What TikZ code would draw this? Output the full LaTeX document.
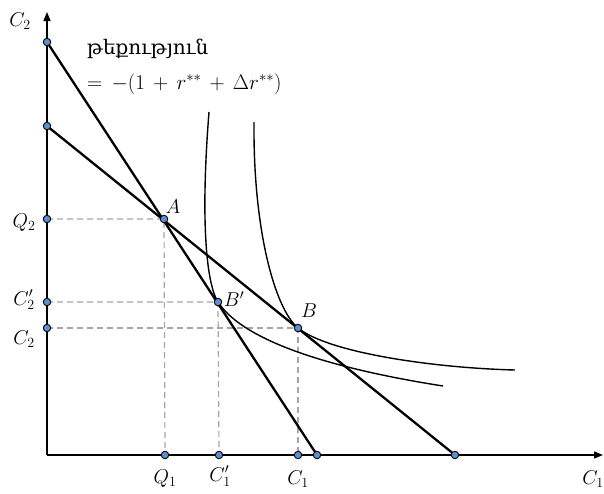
\RequirePackage{fix-cm}
\documentclass[tikz,border=0pt]{standalone}
\usepackage{fontspec}
\usetikzlibrary{arrows.meta}
\newfontfamily\armfont{DejaVu Serif}
\definecolor{dotblue}{HTML}{5B8FD0}
\definecolor{dashgray}{HTML}{A6A6A6}
\begin{document}
\begin{tikzpicture}[x=1pt,y=-1pt,
  lbl/.style={font=\fontsize{20}{24}\selectfont, inner sep=0pt},
  dot/.style={circle, fill=dotblue, draw=black, line width=0.9pt, inner sep=0pt, minimum size=7.5pt},
  axisline/.style={line width=1.3pt, -{Triangle[length=9pt,width=7pt]}},
  budget/.style={line width=2.3pt},
  icurve/.style={line width=1.4pt},
  guide/.style={draw=dashgray, line width=1.2pt, dash pattern=on 6pt off 4pt}]
\useasboundingbox (0,0) rectangle (604,493);
% coordinates
\coordinate (O) at (47,455);
\coordinate (ytop) at (47,12);
\coordinate (xend) at (603,455);
\coordinate (u1top) at (209,112);
\coordinate (u1end) at (443,386);
\coordinate (u2top) at (254,122);
\coordinate (u2end) at (515,370);
\path (47,42) coordinate (S1) (47,126) coordinate (S2)
      (47,219) coordinate (Q2) (47,302) coordinate (C2p) (47,328) coordinate (C2d)
      (165,455) coordinate (Q1) (219,455) coordinate (C1p) (298,455) coordinate (C1d)
      (317,455) coordinate (X1) (455,455) coordinate (X2)
      (164,219) coordinate (A) (218,302) coordinate (Bp) (298,328) coordinate (B);
% dashed guides
\draw[guide] (Q2) -- (A) -- (Q1);
\draw[guide] (C2p) -- (Bp) -- (C1p);
\draw[guide] (C2d) -- (B) -- (C1d);
% indifference curves
\draw[icurve] (u1top) .. controls (200,225) and (207,285) .. (Bp)
              .. controls (248,348) and (360,373) .. (u1end);
\draw[icurve] (u2top) .. controls (253,230) and (275,309) .. (B)
              .. controls (329,353) and (435,368) .. (u2end);
% budget lines
\draw[budget] (S1) -- (X1);
\draw[budget] (S2) -- (X2);
% axes
\draw[axisline] (O) -- (ytop);
\draw[axisline] (O) -- (xend);
% dots
\foreach \p in {S1,S2,Q2,C2p,C2d,Q1,C1p,C1d,X1,X2,A,Bp,B}
  \node[dot] (d\p) at (\p) {};
% labels
\node[lbl] (lC2top) at (20,21) {$C_2$};
\node[lbl, anchor=west] (lslope) at (87,49) {\armfont\fontsize{20}{24}\selectfont թեքություն};
\node[lbl, anchor=west] (lformula) at (87,84) {\fontsize{21}{25}\selectfont\thickmuskip=8mu\medmuskip=7mu$=-(1+r^{**}+\Delta r^{**})$};
\node[lbl] (lA) at (173,207) {$A$};
\node[lbl] (lBp) at (234,299) {$B'$};
\node[lbl] (lB) at (309,311) {$B$};
\node[lbl] (lQ2) at (24,223) {$Q_2$};
\node[lbl] (lC2p) at (24,300) {$C_2'$};
\node[lbl] (lC2) at (24,339) {$C_2$};
\node[lbl] (lQ1) at (165,479) {$Q_1$};
\node[lbl] (lC1p) at (220,476) {$C_1'$};
\node[lbl] (lC1) at (298,479) {$C_1$};
\node[lbl] (lC1x) at (593,479) {$C_1$};
\end{tikzpicture}
\end{document}
